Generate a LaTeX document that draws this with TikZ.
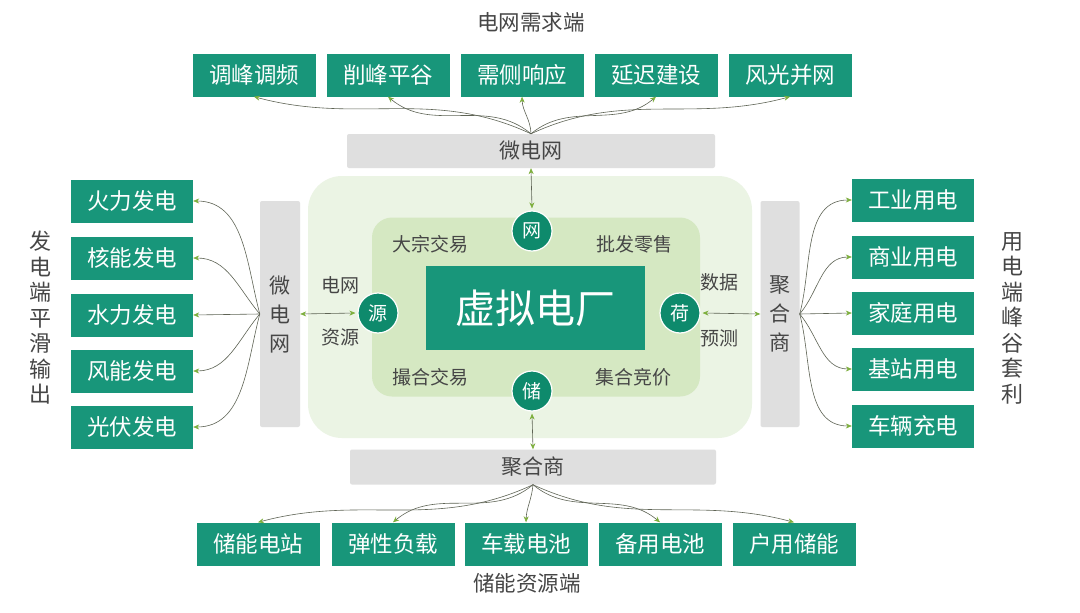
\documentclass[tikz,border=0pt]{standalone}
\usepackage{fontspec}
\setmainfont{Noto Sans CJK SC}
\usetikzlibrary{arrows.meta}
\definecolor{tealbox}{RGB}{24,150,122}
\definecolor{tealcirc}{RGB}{14,138,108}
\definecolor{outerg}{RGB}{235,244,228}
\definecolor{innerg}{RGB}{213,232,194}
\definecolor{barg}{RGB}{223,223,223}
\definecolor{txtc}{RGB}{70,70,70}
\definecolor{lnc}{RGB}{95,100,85}
\definecolor{tipc}{RGB}{125,175,60}
\tikzset{
  box/.style={fill=tealbox, text=white, minimum width=123pt, minimum height=43pt, inner sep=0pt, font=\fontsize{22.5}{22.5}\selectfont},
  graybar/.style={fill=barg, rounded corners=2pt, text=txtc, inner sep=0pt, align=center, font=\fontsize{21}{29}\selectfont},
  circ/.style={circle, fill=tealcirc, draw=white, line width=1.2pt, minimum size=40pt, inner sep=0pt, text=white, font=\fontsize{19}{19}\selectfont},
  lab/.style={text=txtc, inner sep=0pt, font=\fontsize{19}{19}\selectfont},
  ttl/.style={text=txtc, inner sep=0pt, font=\fontsize{21.5}{21.5}\selectfont},
  vlab/.style={text=txtc, inner sep=0pt, align=center, font=\fontsize{22}{25.5}\selectfont},
  tip/.tip={Stealth[length=6pt,width=5pt,color=tipc,fill=tipc]},
  conn/.style={draw=lnc, line width=0.6pt, -tip},
  dconn/.style={draw=lnc, line width=0.6pt, tip-tip}
}
\begin{document}
\begin{tikzpicture}[x=1pt,y=1pt]
\useasboundingbox (0,0) rectangle (1080,-613);
\fill[white] (0,0) rectangle (1080,-613);

% titles
\node[ttl] (ttop) at (531,-22) {电网需求端};
\node[ttl] (tbot) at (527,-583) {储能资源端};
\node[vlab] (lleft) at (40,-318) {发\\电\\端\\平\\滑\\输\\出};
\node[vlab] (lright) at (1012,-318) {用\\电\\端\\峰\\谷\\套\\利};

% top boxes
\node[box] (t1) at (254,-75) {调峰调频};
\node[box] (t2) at (388,-75) {削峰平谷};
\node[box] (t3) at (522,-75) {需侧响应};
\node[box] (t4) at (656,-75) {延迟建设};
\node[box] (t5) at (790,-75) {风光并网};

% bottom boxes
\node[box] (b1) at (258,-544) {储能电站};
\node[box] (b2) at (393,-544) {弹性负载};
\node[box] (b3) at (526,-544) {车载电池};
\node[box] (b4) at (660,-544) {备用电池};
\node[box] (b5) at (794,-544) {户用储能};

% left boxes
\node[box, minimum width=122pt] (l1) at (132,-201) {火力发电};
\node[box, minimum width=122pt] (l2) at (132,-258) {核能发电};
\node[box, minimum width=122pt] (l3) at (132,-315) {水力发电};
\node[box, minimum width=122pt] (l4) at (132,-371) {风能发电};
\node[box, minimum width=122pt] (l5) at (132,-427) {光伏发电};

% right boxes
\node[box, minimum width=122pt] (r1) at (913,-200) {工业用电};
\node[box, minimum width=122pt] (r2) at (913,-257) {商业用电};
\node[box, minimum width=122pt] (r3) at (913,-313) {家庭用电};
\node[box, minimum width=122pt] (r4) at (913,-369) {基站用电};
\node[box, minimum width=122pt] (r5) at (913,-426) {车辆充电};

% gray bars
\node[graybar, minimum width=368pt, minimum height=34pt] (mgT) at (531,-151) {微电网};
\node[graybar, minimum width=366pt, minimum height=35pt] (agB) at (533,-467) {聚合商};
\node[graybar, minimum width=40pt, minimum height=226pt] (mgL) at (280,-314) {微\\电\\网};
\node[graybar, minimum width=39pt, minimum height=226pt] (agR) at (780,-314) {聚\\合\\商};

% central areas
\node[fill=outerg, rounded corners=34pt, minimum width=444pt, minimum height=262pt, inner sep=0pt] (outer) at (530,-307) {};
\node[fill=innerg, rounded corners=20pt, minimum width=328pt, minimum height=179pt, inner sep=0pt] (inner) at (536,-307) {};
\node[fill=tealbox, text=white, minimum width=219pt, minimum height=84pt, inner sep=0pt, font=\fontsize{40}{40}\selectfont] (vpp) at (535,-308) {虚拟电厂};

\node[circ] (cw) at (532,-231) {网};
\node[circ] (cy) at (378,-313) {源};
\node[circ] (ch) at (680,-313) {荷};
\node[circ] (cc) at (532,-391) {储};

\node[lab] (x1) at (430,-244) {大宗交易};
\node[lab] (x2) at (634,-244) {批发零售};
\node[lab] (x3) at (430,-377) {撮合交易};
\node[lab] (x4) at (633,-377) {集合竞价};
\node[lab] (x5) at (340,-285) {电网};
\node[lab] (x6) at (340,-337) {资源};
\node[lab] (x7) at (719,-282) {数据};
\node[lab] (x8) at (719,-338) {预测};

% central connectors
\draw[dconn] (cw.north) ++(0,2) coordinate (cwn) (cwn) -- (mgT.south);
\draw[dconn] (cc.south) ++(0,-2) coordinate (ccs) (ccs) -- (agB.north);
\draw[dconn] (cy.west) ++(-2,0) coordinate (cyw) (cyw) -- (mgL.east);
\draw[dconn] (ch.east) ++(2,0) coordinate (che) (che) -- (agR.west);

% top fan
\draw[conn] (mgT.north) to[out=155,in=-15] (t1.south);
\draw[conn] (mgT.north) to[out=140,in=-40] (t2.south);
\draw[conn] (mgT.north) to[out=92,in=-88] (t3.south);
\draw[conn] (mgT.north) to[out=40,in=-140] (t4.south);
\draw[conn] (mgT.north) to[out=25,in=-165] (t5.south);

% bottom fan
\draw[conn] (agB.south) to[out=-155,in=15] (b1.north);
\draw[conn] (agB.south) to[out=-140,in=40] (b2.north);
\draw[conn] (agB.south) to[out=-95,in=88] (b3.north);
\draw[conn] (agB.south) to[out=-40,in=140] (b4.north);
\draw[conn] (agB.south) to[out=-25,in=165] (b5.north);

% left fan
\draw[conn] (mgL.west) to[out=105,in=0] (l1.east);
\draw[conn] (mgL.west) to[out=130,in=0] (l2.east);
\draw[conn] (mgL.west) -- (l3.east);
\draw[conn] (mgL.west) to[out=-130,in=0] (l4.east);
\draw[conn] (mgL.west) to[out=-105,in=0] (l5.east);

% right fan
\draw[conn] (agR.east) to[out=75,in=180] (r1.west);
\draw[conn] (agR.east) to[out=50,in=180] (r2.west);
\draw[conn] (agR.east) -- (r3.west);
\draw[conn] (agR.east) to[out=-50,in=180] (r4.west);
\draw[conn] (agR.east) to[out=-75,in=180] (r5.west);
\end{tikzpicture}
\end{document}
